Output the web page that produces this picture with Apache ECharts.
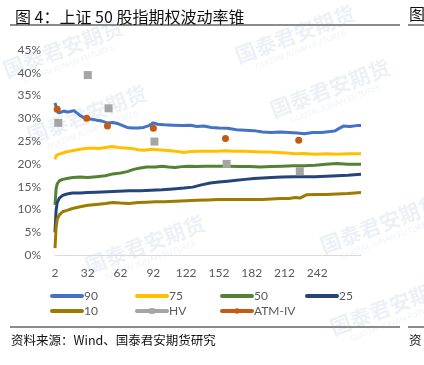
<!DOCTYPE html>
<html>
<head>
<meta charset="utf-8">
<script src="https://cdn.jsdelivr.net/npm/echarts@6/dist/echarts.min.js"></script>
<style>
  html, body { margin: 0; padding: 0; background: #fff; }
  #main { width: 424px; height: 365px; }
</style>
</head>
<body>
<div id="main"></div>
<script>
var p90Days = [2,3,4,5,7,10,13,16,19,22,25,28,32,36,40,45,50,55,60,64,68,73,78,83,88,92,96,102,110,118,126,132,138,145,152,160,168,176,184,192,200,208,216,224,230,238,246,254,258,262,266,272,278,282];
var p90Vals = [33.4,32.6,31.8,31.2,31.3,31.6,31.4,31.5,31.7,31.2,30.6,30.2,29.9,29.8,29.6,29.4,29.0,29.1,28.8,28.4,28.0,27.9,27.9,28.0,28.4,29.0,28.7,28.6,28.5,28.4,28.5,28.2,28.3,28.0,27.9,27.8,27.5,27.4,27.3,27.0,26.9,27.0,26.9,26.8,26.6,26.9,26.9,27.1,27.2,27.8,28.3,28.2,28.4,28.4];

var p75Days = [2,3,5,8,12,16,20,25,30,36,42,48,54,60,66,72,78,84,90,96,102,108,114,120,126,134,142,150,158,166,174,182,190,198,206,214,222,230,240,250,260,270,282];
var p75Vals = [21.0,21.8,22.1,22.3,22.6,22.8,23.0,23.2,23.4,23.5,23.4,23.6,23.8,23.6,23.5,23.4,23.1,23.0,23.2,23.1,23.0,22.9,22.7,22.5,22.7,22.8,22.8,22.8,22.9,22.8,22.8,22.7,22.6,22.6,22.5,22.4,22.2,22.3,22.1,22.2,22.1,22.2,22.2];

var p50Days = [2,3,4,6,9,13,18,25,32,40,48,55,62,68,74,80,86,94,100,106,112,118,124,132,140,150,160,170,180,190,200,210,220,230,240,250,260,270,282];
var p50Vals = [11.0,14.5,15.6,16.3,16.6,16.8,17.0,17.1,17.0,17.2,17.4,17.8,18.0,18.3,18.8,19.1,19.3,19.3,19.5,19.3,19.2,19.4,19.5,19.4,19.5,19.5,19.5,19.4,19.4,19.3,19.4,19.5,19.6,19.6,19.7,19.9,20.1,19.9,19.9];

var p25Days = [2,3,4,6,9,13,18,25,32,40,50,60,70,80,90,100,110,120,128,136,144,152,160,168,176,184,192,200,210,220,230,240,250,260,270,282];
var p25Vals = [5.0,9.8,11.5,12.5,13.1,13.4,13.6,13.6,13.7,13.8,13.9,14.0,14.1,14.1,14.2,14.3,14.5,14.7,14.9,15.4,15.8,16.0,16.2,16.4,16.6,16.8,16.9,17.0,17.1,17.2,17.2,17.2,17.3,17.4,17.5,17.7];

var p10Days = [2,3,4,6,9,13,18,25,32,40,48,55,62,70,78,86,94,102,112,122,132,142,152,162,172,182,192,200,208,216,222,226,232,240,250,260,270,282];
var p10Vals = [1.5,6.0,7.8,8.8,9.5,9.8,10.2,10.6,10.9,11.1,11.3,11.5,11.4,11.3,11.5,11.6,11.7,11.7,11.8,11.9,12.0,12.1,12.2,12.2,12.2,12.2,12.2,12.3,12.4,12.4,12.6,12.5,13.2,13.3,13.3,13.4,13.5,13.7];

var hvDays = [5,32,51,93,159,226];
var hvVals = [29.0,39.5,32.2,24.9,20.0,18.4];

var atmDays = [4,31,50,92,158,225];
var atmVals = [32.0,30.0,28.3,27.8,25.6,25.2];

function pairs(xs, ys) {
  return xs.map(function(x, i) { return [x, ys[i]]; });
}

var numFont = 'Lato, "Noto Sans", sans-serif';
var cjkFont = '"Noto Sans CJK SC", sans-serif';

function coneLine(name, color, xs, ys) {
  return {
    name: name, type: 'line', data: pairs(xs, ys),
    symbol: 'none', z: 3,
    lineStyle: { color: color, width: 3 },
    itemStyle: { color: color }
  };
}

function markSeries(name, color, shape, size, xs, ys) {
  return {
    name: name, type: 'line', data: pairs(xs, ys),
    symbol: shape, symbolSize: size, showSymbol: true, z: 4,
    lineStyle: { color: color, width: 0, opacity: 0 },
    itemStyle: { color: color }
  };
}

// faint company watermark
var marks = [[68, 62], [92, 128], [300, 48], [335, 102], [150, 258], [385, 238], [395, 320]];
var wm = [];
marks.forEach(function(p) {
  wm.push({
    type: 'group', x: p[0], y: p[1], rotation: 0.36, z: -10, silent: true,
    children: [
      { type: 'text', style: { text: '国泰君安期货', x: 0, y: -4, align: 'center', verticalAlign: 'bottom',
        font: 'bold 21px ' + cjkFont, fill: '#EDF1F7' } },
      { type: 'text', style: { text: 'GUOTAI JUNAN FUTURES', x: 0, y: -2, align: 'center', verticalAlign: 'top',
        font: '8px ' + numFont, fill: '#EFF2F7' } }
    ]
  });
});

// legend entries: plain bars for the cone, line+marker for HV / ATM-IV
function bar(name) { return { name: name, itemStyle: { opacity: 0 } }; }
function marked(name, color) { return { name: name, lineStyle: { width: 4, opacity: 1, color: color } }; }

var chart = echarts.init(document.getElementById('main'));
var option = {
  backgroundColor: '#fff',
  animation: false,
  title: {
    text: '图 4：上证 50 股指期权波动率锥',
    left: 10, top: 4,
    textStyle: { fontFamily: cjkFont, fontSize: 16, fontWeight: 'normal', color: '#111' }
  },
  graphic: wm.concat([
    { type: 'rect', shape: { x: 10, y: 24, width: 390, height: 2 }, style: { fill: '#8c8c8c' } },
    { type: 'rect', shape: { x: 408, y: 24, width: 20, height: 2 }, style: { fill: '#8c8c8c' } },
    { type: 'rect', shape: { x: 10, y: 326, width: 390, height: 2 }, style: { fill: '#8c8c8c' } },
    { type: 'rect', shape: { x: 408, y: 326, width: 20, height: 2 }, style: { fill: '#8c8c8c' } },
    { type: 'text', style: { text: '图', x: 409, y: 14, verticalAlign: 'middle', font: '16px ' + cjkFont, fill: '#111' } },
    { type: 'text', style: { text: '资料来源：Wind、国泰君安期货研究', x: 11, y: 340, verticalAlign: 'middle',
      font: '12.5px ' + cjkFont, fill: '#111' } },
    { type: 'text', style: { text: '资', x: 409, y: 340, verticalAlign: 'middle', font: '12.5px ' + cjkFont, fill: '#111' } }
  ]),
  legend: [
    { data: [bar('90'), bar('10')], left: 45 },
    { data: [bar('75'), marked('HV', '#A5A5A5')], left: 130 },
    { data: [bar('50'), marked('ATM-IV', '#C55A11')], left: 215 },
    { data: [bar('25')], left: 300 }
  ].map(function(l) {
    return {
      data: l.data, left: l.left, top: 285, orient: 'vertical',
      itemWidth: 30, itemHeight: 7, itemGap: 3,
      lineStyle: { width: 4, cap: 'round' },
      textStyle: { fontFamily: numFont, fontSize: 12, color: '#595959', padding: [0, 0, 0, -3] }
    };
  }),
  grid: { left: 55, right: 63, top: 50, bottom: 110 },
  xAxis: {
    type: 'value', min: 2, max: 282, interval: 30,
    splitLine: { show: false },
    axisTick: { show: false },
    axisLine: { lineStyle: { color: '#D9D9D9', width: 1 } },
    axisLabel: {
      margin: 12, color: '#595959', fontFamily: numFont, fontSize: 12,
      showMaxLabel: false,
      formatter: function(v) { return v > 242 ? '' : v; }
    }
  },
  yAxis: {
    type: 'value', min: 0, max: 45, interval: 5,
    splitLine: { show: false },
    axisLine: { show: false },
    axisTick: { show: false },
    axisLabel: { margin: 14, color: '#595959', fontFamily: numFont, fontSize: 12, formatter: '{value}%' }
  },
  series: [
    coneLine('90', '#4472C4', p90Days, p90Vals),
    coneLine('75', '#FFC000', p75Days, p75Vals),
    coneLine('50', '#548235', p50Days, p50Vals),
    coneLine('25', '#264478', p25Days, p25Vals),
    coneLine('10', '#9E7A00', p10Days, p10Vals),
    markSeries('HV', '#A5A5A5', 'rect', 8, hvDays, hvVals),
    markSeries('ATM-IV', '#C55A11', 'circle', 7, atmDays, atmVals)
  ]
};
chart.setOption(option);
</script>
</body>
</html>
